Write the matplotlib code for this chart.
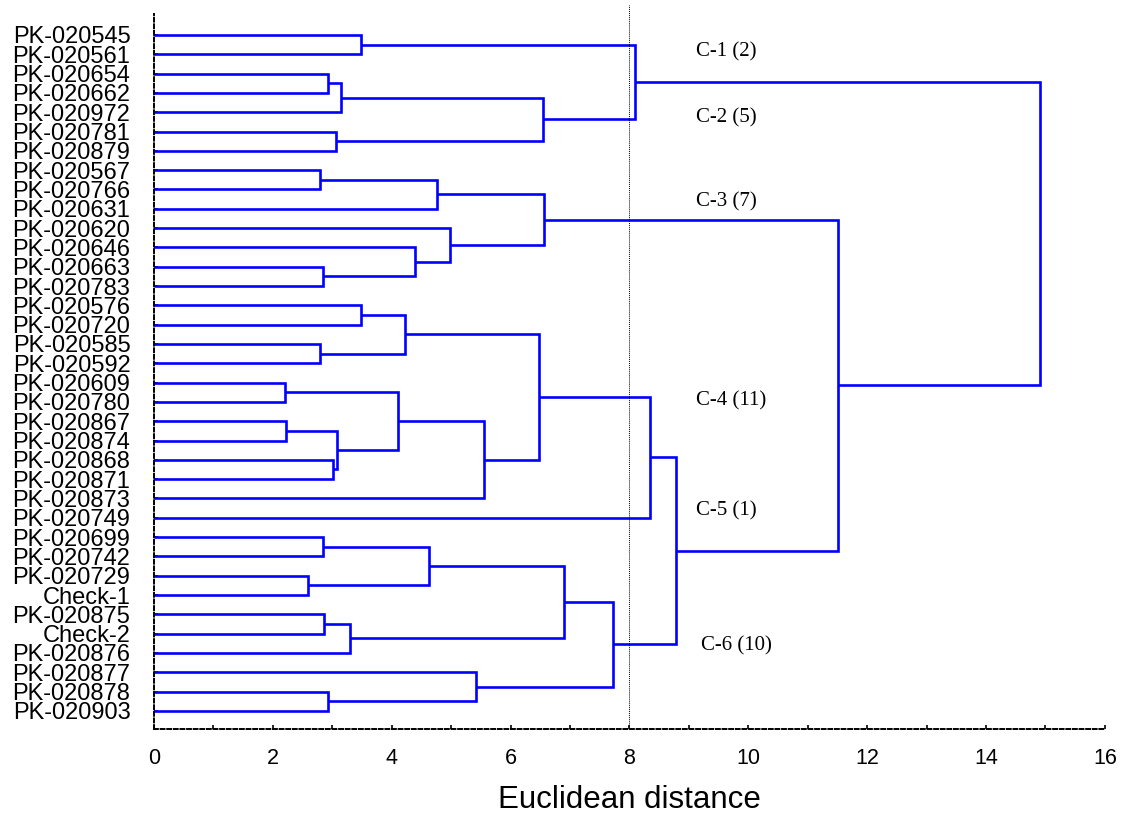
import numpy as np
import matplotlib
matplotlib.use("Agg")
from matplotlib import pyplot as plt

# leaf labels, top to bottom
leaves = ["PK-020545", "PK-020561", "PK-020654", "PK-020662", "PK-020972", "PK-020781",
          "PK-020879", "PK-020567", "PK-020766", "PK-020631", "PK-020620", "PK-020646",
          "PK-020663", "PK-020783", "PK-020576", "PK-020720", "PK-020585", "PK-020592",
          "PK-020609", "PK-020780", "PK-020867", "PK-020874", "PK-020868", "PK-020871",
          "PK-020873", "PK-020749", "PK-020699", "PK-020742", "PK-020729", "Check-1",
          "PK-020875", "Check-2", "PK-020876", "PK-020877", "PK-020878", "PK-020903"]

# merges in linkage order: node id = len(leaves) + row
merge_left = [0, 2, 37, 5, 38, 36, 7, 42, 12, 11, 10, 43, 14, 16, 48, 18, 20, 22, 52,
              51, 55, 50, 57, 26, 28, 59, 30, 62, 61, 34, 33, 64, 58, 47, 41]
merge_right = [1, 3, 4, 6, 39, 40, 8, 9, 13, 44, 45, 46, 15, 17, 49, 19, 21, 23, 53,
               54, 24, 56, 25, 27, 29, 60, 31, 32, 63, 35, 65, 66, 67, 68, 69]
merge_height = [3.48, 2.93, 3.15, 3.06, 6.54, 8.09, 2.79, 4.76, 2.84, 4.39, 4.98, 6.56,
                3.48, 2.79, 4.22, 2.20, 2.22, 3.01, 3.08, 4.10, 5.55, 6.48, 8.34,
                2.84, 2.59, 4.63, 2.86, 3.30, 6.90, 2.93, 5.42, 7.72, 8.78, 11.51, 14.91]

cluster_names = ["C-1 (2)", "C-2 (5)", "C-3 (7)", "C-4 (11)", "C-5 (1)", "C-6 (10)"]
cluster_pos = [(9.12, 0.85), (9.12, 4.3), (9.12, 8.65), (9.12, 18.95), (9.12, 24.65), (9.2, 31.65)]
cut_height = 8.0

n = len(leaves)
node_y = {i: float(i) for i in range(n)}
node_h = {i: 0.0 for i in range(n)}

fig = plt.figure(figsize=(11.24, 8.18), dpi=100)
ax = fig.add_axes([0.137, 0.109, 0.846, 0.874])

blue = (0, 0, 1)
for k, (a, b, h) in enumerate(zip(merge_left, merge_right, merge_height)):
    ya, yb = node_y[a], node_y[b]
    ax.plot([node_h[a], h, h, node_h[b]], [ya, ya, yb, yb], color=blue, lw=1.9,
            solid_joinstyle="miter", solid_capstyle="butt")
    node_y[n + k] = (ya + yb) / 2
    node_h[n + k] = h

ax.axvline(cut_height, ymin=0, ymax=1.012, color="black", lw=0.7, ls=(0, (1, 1)), clip_on=False)

for name, (x, y) in zip(cluster_names, cluster_pos):
    ax.text(x, y, name, fontsize=15, family="Liberation Serif", va="center", ha="left")

ax.set_xlim(0, 16)
ax.set_ylim(35.93, -1.09)
ax.set_xticks(np.arange(0, 17, 2))
ax.set_xticks(np.arange(0, 17, 1), minor=True)
ax.set_xticklabels([str(v) for v in range(0, 17, 2)], family="Liberation Sans", fontsize=15.5)
ax.set_yticks(range(n))
ax.set_yticklabels(leaves, family="Liberation Sans", fontsize=17)
ax.tick_params(axis="x", which="both", direction="in", length=3, width=1.2, pad=14)
ax.tick_params(axis="y", direction="in", length=3, width=1.2, pad=17)
ax.set_xlabel("Euclidean distance", family="Liberation Sans", fontsize=22.5, labelpad=11)

for side in ["top", "right"]:
    ax.spines[side].set_visible(False)
for side in ["left", "bottom"]:
    ax.spines[side].set_linestyle((0, (2, 1.4)))
    ax.spines[side].set_linewidth(1.4)

fig.savefig("out.png", dpi=100)
